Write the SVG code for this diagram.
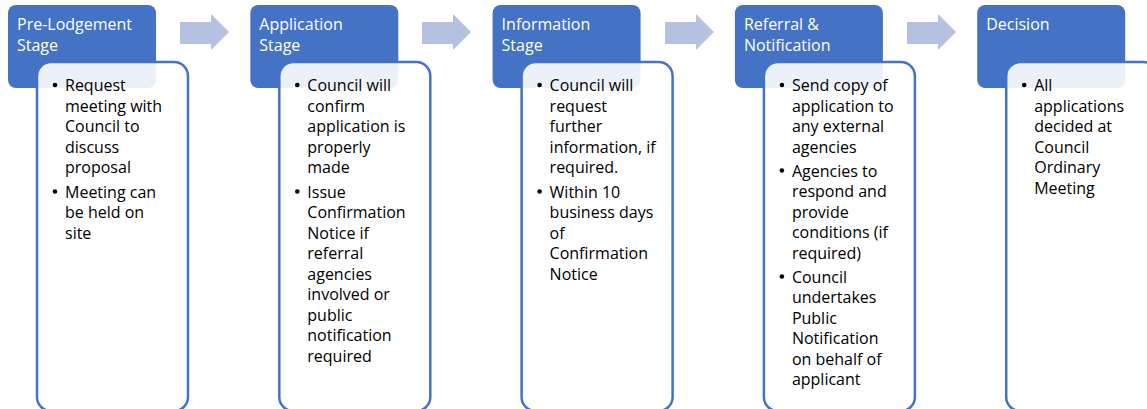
<svg xmlns="http://www.w3.org/2000/svg" width="1147" height="409" viewBox="0 0 1147 409">
<style>
.hdr{fill:#4472c4}
.box{fill:#ffffff;fill-opacity:0.9;stroke:#4472c4;stroke-width:2.5}
.ht{font-family:"Open Sans","Noto Sans",sans-serif;font-size:16px;fill:#ffffff}
.bt{font-family:"Open Sans","Noto Sans",sans-serif;font-size:16px;fill:#000000}
.arr{fill:#b4c1e1}
.dot{fill:#000000}
</style>
<defs>
<path id="arrow" d="M0,17 H31 V9 L49,27 L31,45 V39 H0 Z"/>
</defs>
<rect width="1147" height="409" fill="#ffffff"/>
<g id="connectors">
<use href="#arrow" class="arr" x="180" y="5"/>
<use href="#arrow" class="arr" x="422" y="5"/>
<use href="#arrow" class="arr" x="665" y="5"/>
<use href="#arrow" class="arr" x="907" y="5"/>
</g>
<g id="stage1">
<rect class="hdr" x="8" y="5" width="148" height="83" rx="8"/>
<text class="ht"><tspan x="17" y="30">Pre-Lodgement</tspan><tspan x="17" y="50.5">Stage</tspan></text>
<rect class="box" x="37" y="62" width="151" height="349" rx="14"/>
<circle class="dot" cx="55" cy="85" r="2.3"/>
<circle class="dot" cx="55" cy="191.5" r="2.3"/>
<text class="bt"><tspan x="65" y="91">Request</tspan><tspan x="65" y="111.5">meeting with</tspan><tspan x="65" y="132">Council to</tspan><tspan x="65" y="152.5">discuss</tspan><tspan x="65" y="173">proposal</tspan><tspan x="65" y="197.5">Meeting can</tspan><tspan x="65" y="218">be held on</tspan><tspan x="65" y="238.5">site</tspan></text>
</g>
<g id="stage2">
<rect class="hdr" x="250.3" y="5" width="148" height="83" rx="8"/>
<text class="ht"><tspan x="259.3" y="30">Application</tspan><tspan x="259.3" y="50.5">Stage</tspan></text>
<rect class="box" x="279.3" y="62" width="151" height="349" rx="14"/>
<circle class="dot" cx="297.3" cy="85" r="2.3"/>
<circle class="dot" cx="297.3" cy="191.5" r="2.3"/>
<text class="bt"><tspan x="307.3" y="91">Council will</tspan><tspan x="307.3" y="111.5">confirm</tspan><tspan x="307.3" y="132">application is</tspan><tspan x="307.3" y="152.5">properly</tspan><tspan x="307.3" y="173">made</tspan><tspan x="307.3" y="197.5">Issue</tspan><tspan x="307.3" y="218">Confirmation</tspan><tspan x="307.3" y="238.5">Notice if</tspan><tspan x="307.3" y="259">referral</tspan><tspan x="307.3" y="279.5">agencies</tspan><tspan x="307.3" y="300">involved or</tspan><tspan x="307.3" y="320.5">public</tspan><tspan x="307.3" y="341">notification</tspan><tspan x="307.3" y="361.5">required</tspan></text>
</g>
<g id="stage3">
<rect class="hdr" x="492.6" y="5" width="148" height="83" rx="8"/>
<text class="ht"><tspan x="501.6" y="30">Information</tspan><tspan x="501.6" y="50.5">Stage</tspan></text>
<rect class="box" x="521.6" y="62" width="151" height="349" rx="14"/>
<circle class="dot" cx="539.6" cy="85" r="2.3"/>
<circle class="dot" cx="539.6" cy="191.5" r="2.3"/>
<text class="bt"><tspan x="549.6" y="91">Council will</tspan><tspan x="549.6" y="111.5">request</tspan><tspan x="549.6" y="132">further</tspan><tspan x="549.6" y="152.5">information, if</tspan><tspan x="549.6" y="173">required.</tspan><tspan x="549.6" y="197.5">Within 10</tspan><tspan x="549.6" y="218">business days</tspan><tspan x="549.6" y="238.5">of</tspan><tspan x="549.6" y="259">Confirmation</tspan><tspan x="549.6" y="279.5">Notice</tspan></text>
</g>
<g id="stage4">
<rect class="hdr" x="734.9" y="5" width="148" height="83" rx="8"/>
<text class="ht"><tspan x="743.9" y="30">Referral &amp;</tspan><tspan x="743.9" y="50.5">Notification</tspan></text>
<rect class="box" x="763.9" y="62" width="151" height="349" rx="14"/>
<circle class="dot" cx="781.9" cy="85" r="2.3"/>
<circle class="dot" cx="781.9" cy="170.5" r="2.3"/>
<circle class="dot" cx="781.9" cy="276.5" r="2.3"/>
<text class="bt"><tspan x="791.9" y="91">Send copy of</tspan><tspan x="791.9" y="111.5">application to</tspan><tspan x="791.9" y="132">any external</tspan><tspan x="791.9" y="152.5">agencies</tspan><tspan x="791.9" y="176.5">Agencies to</tspan><tspan x="791.9" y="197">respond and</tspan><tspan x="791.9" y="217.5">provide</tspan><tspan x="791.9" y="238">conditions (if</tspan><tspan x="791.9" y="258.5">required)</tspan><tspan x="791.9" y="282.5">Council</tspan><tspan x="791.9" y="303">undertakes</tspan><tspan x="791.9" y="323.5">Public</tspan><tspan x="791.9" y="344">Notification</tspan><tspan x="791.9" y="364.5">on behalf of</tspan><tspan x="791.9" y="385">applicant</tspan></text>
</g>
<g id="stage5">
<rect class="hdr" x="977.2" y="5" width="148" height="83" rx="8"/>
<text class="ht"><tspan x="986.2" y="30">Decision</tspan></text>
<rect class="box" x="1006.2" y="62" width="151" height="349" rx="14"/>
<circle class="dot" cx="1024.2" cy="85" r="2.3"/>
<text class="bt"><tspan x="1034.2" y="91">All</tspan><tspan x="1034.2" y="111.5">applications</tspan><tspan x="1034.2" y="132">decided at</tspan><tspan x="1034.2" y="152.5">Council</tspan><tspan x="1034.2" y="173">Ordinary</tspan><tspan x="1034.2" y="193.5">Meeting</tspan></text>
</g>
</svg>
